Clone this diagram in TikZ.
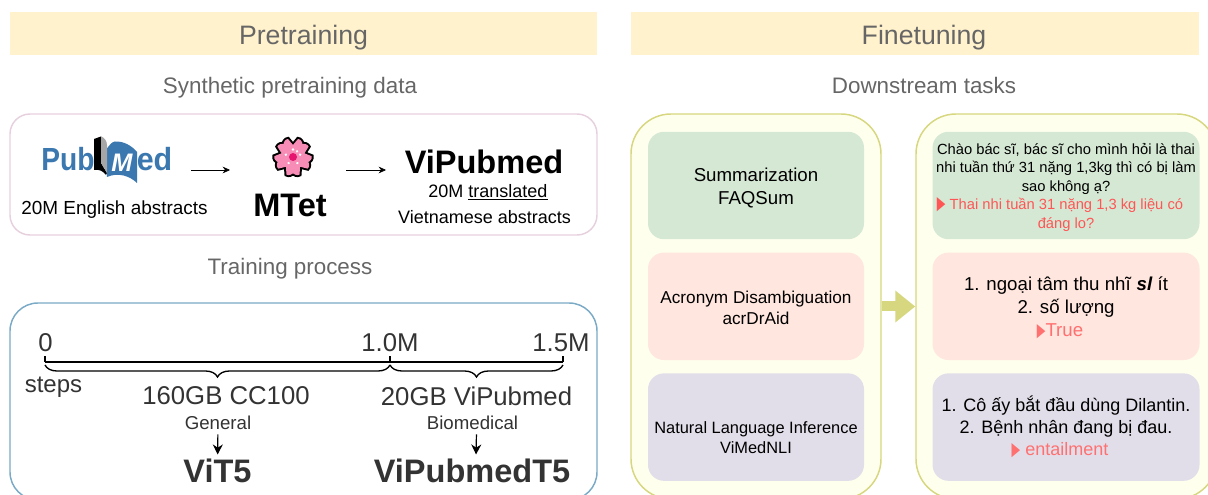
\documentclass[tikz,border=0pt]{standalone}
\usepackage{graphicx}
\usepackage{fontspec}
\setmainfont{Liberation Sans}
\newfontfamily\symfont{DejaVu Sans}
\usetikzlibrary{arrows.meta, positioning, calc, decorations.pathreplacing}

\definecolor{headfill}{HTML}{FFF2CC}
\definecolor{headtext}{HTML}{666666}
\definecolor{pubpink}{HTML}{E6D0DE}
\definecolor{trainblue}{HTML}{7AAAC6}
\definecolor{olive}{HTML}{D6D77F}
\definecolor{cream}{HTML}{FFFFEE}
\definecolor{taskgreen}{HTML}{D5E8D4}
\definecolor{taskred}{HTML}{FFE6DE}
\definecolor{taskpurple}{HTML}{E2DEE9}
\definecolor{darktext}{HTML}{333333}
\definecolor{answerred}{HTML}{FF5555}
\definecolor{answerpink}{HTML}{FF7070}
\definecolor{pubblue}{HTML}{3A78AF}
\definecolor{petal}{HTML}{F78DB6}
\definecolor{petalcore}{HTML}{E6136F}

\newcommand{\redmark}{{\symfont\fontsize{14}{14}\selectfont\scalebox{.6}[1]{▶}}}

\begin{document}
\begin{tikzpicture}[x=0.75pt, y=-0.75pt, >={Stealth[length=5.5pt,width=5pt]}, node distance=9.6pt,
		header/.style={fill=headfill, text=headtext, minimum width=440.25pt, minimum height=32.25pt, text height=17.25pt, text depth=0pt, font=\fontsize{20}{24}\selectfont},
		subhead/.style={text=headtext, inner sep=0pt, font=\fontsize{16.8}{20}\selectfont},
		panel/.style={draw, rounded corners=15pt, line width=1.1pt, minimum width=440.25pt},
		outerbox/.style={draw=olive, fill=cream, rounded corners=30pt, line width=1.1pt, minimum height=288.75pt},
		taskbox/.style={rounded corners=12pt, minimum height=80.6pt, align=center, inner sep=0pt},
		lefttask/.style={taskbox, minimum width=162pt},
		righttask/.style={taskbox, minimum width=200.25pt},
		small/.style={font=\fontsize{12.3}{15}\selectfont},
		medium/.style={font=\fontsize{14}{17.25}\selectfont},
		plain/.style={inner sep=0pt, font=\fontsize{14.2}{17}\selectfont},
		steplabel/.style={text=darktext, inner sep=1pt, font=\fontsize{19.3}{23}\selectfont},
		modelname/.style={inner sep=1pt, font=\fontsize{24.4}{29}\selectfont\bfseries},
		brace/.style={decorate, decoration={brace, mirror, amplitude=9pt}, line width=1pt},
		logotext/.style={text=pubblue, inner sep=0pt, font=\fontsize{24}{28}\selectfont\bfseries},
		downarrow/.style={->, >={Stealth[length=7.5pt,width=7.5pt]}, line width=0.9pt, shorten >=2.25pt, shorten <=2.25pt},
	]
		\path[use as bounding box, clip] (0,0) rectangle (1208,495);
		
		\node (pretrain) [header] at (303.5,33.5) {Pretraining};
		\node (finetune) [header, minimum width=426pt] at (915,33.5) {\hspace*{13.5pt}Finetuning};
		\node (synth) [subhead] at (290,88) {Synthetic pretraining data};
		\node (downstream) [subhead] at (924,85) {Downstream tasks};
		\node (trainproc) [subhead] at (290,269) {Training process};
		
		\node (datapanel) [panel, draw=pubpink, minimum height=90.75pt] at (303.5,174.5) {};
		\node (trainpanel) [panel, draw=trainblue, rounded corners=21pt, minimum height=147.75pt] at (303.5,401.5) {};
		
		\fill[pubblue] (106,150) .. controls (110,144) and (112,142) .. (115,141.5) .. controls (124,141) and (132,146) .. (137,152) -- (137,183) .. controls (130,176) and (118,172) .. (107,177) -- cycle;
		\fill[black] (94,139) -- (101,136.5) -- (101,163) -- (107,173) -- (106,175) .. controls (103,171) and (99,169) .. (94,170) -- cycle;
		\fill[gray!70] (101,136.5) .. controls (104,137) and (107,141) .. (107,145) -- (107,173) -- (101,163) -- cycle;
		\node (pub) [logotext, anchor=base west] at (41,171) {\scalebox{.88}[1]{Pub}};
		\node (med) [logotext, anchor=base east] at (172.5,171) {\scalebox{.95}[1]{ed}};
		\node (pubm) [logotext, text=white, anchor=base, font=\fontsize{19}{22}\selectfont\bfseries\itshape] at (122,172) {M};
		
		\foreach \a in {0,72,...,288}
			\draw[black, line width=3pt, rotate around={\a:(293,157)}] (293,157) .. controls (279,151) and (283,139) .. (288,139) -- (293,145) -- (298,139) .. controls (303,139) and (307,151) .. (293,157);
		\foreach \a in {0,72,...,288} {
			\fill[petal, rotate around={\a:(293,157)}] (293,157) .. controls (279,151) and (283,139) .. (288,139) -- (293,145) -- (298,139) .. controls (303,139) and (307,151) .. (293,157);
			\fill[white, rotate around={\a:(293,157)}] (293,149.5) circle (1.3);
			\fill[white, rotate around={\a+36:(293,157)}] (293,150) circle (1.3);
		}
		\fill[petalcore] (293,157) circle (4);
		
		\node (english) [plain] at (114.5,210) {20M English abstracts};
		\node (mtet) [modelname] at (290,205) {MTet};
		\node (vipubmed) [modelname] at (484,162) {ViPubmed};
		\node (translated) [plain, font=\fontsize{13.5}{16}\selectfont] at (488,192) {20M \underline{translated}};
		\node (vietnamese) [plain, font=\fontsize{13.5}{16}\selectfont] at (484.5,217) {Vietnamese abstracts};
		
		\coordinate (pubout) at (191,170);
		\coordinate (mtetin) at (230,170);
		\coordinate (mtetout) at (346,170);
		\coordinate (vipubin) at (386,170);
		\draw[->] (pubout) -- (mtetin);
		\draw[->] (mtetout) -- (vipubin);
		
		\node (zero) [steplabel] at (45.5,343) {0};
		\node (onem) [steplabel] at (390,343) {1.0M};
		\node (onefive) [steplabel] at (561,343) {1.5M};
		\node (steps) [steplabel, font=\fontsize{18}{22}\selectfont] at (53.5,387) {steps};
		
		\coordinate (step0) at (45,362);
		\coordinate (step1) at (390,362);
		\coordinate (step2) at (563,362);
		\draw[line width=1pt] (step0) -- (step2);
		\foreach \s in {step0,step1,step2}
			\draw[line width=1pt] (\s) -- ++(0,-6);
		\draw[brace] ($(step0)+(0,3)$) -- ($(step1)+(0,3)$);
		\draw[brace] ($(step1)+(0,3)$) -- ($(step2)+(0,3)$);
		
		\node (cc) [steplabel] at (226,396) {160GB CC100};
		\node (general) [steplabel, font=\fontsize{14}{17}\selectfont] at (218,423) {General};
		\node (vit) [modelname, text=darktext] at (217.5,471) {ViT5};
		\node (vipub) [steplabel] at (476.5,396) {20GB ViPubmed};
		\node (biomed) [steplabel, font=\fontsize{14}{17}\selectfont] at (472.5,423) {Biomedical};
		\node (vipubt) [modelname, text=darktext] at (472,471) {ViPubmedT5};
		
		\draw[downarrow] (general) -- (vit);
		\draw[downarrow] ([xshift=3pt]biomed.south) -- ([xshift=3pt]vipubt.north);
		
		\node (tasks) [outerbox, minimum width=187.5pt] at (756,306.5) {};
		\node (outputs) [outerbox, minimum width=225.75pt] at (1066.5,306.5) {};
		
		\draw[olive, line width=7.5pt, -{Triangle[length=15pt,width=23pt]}] (tasks.east) -- (outputs.west);
		
		\node (sumtask) [lefttask, fill=taskgreen, medium] at (756,185.5) {\rule{0pt}{13.5pt}Summarization\\FAQSum};
		\node (acrtask) [lefttask, fill=taskred, font=\fontsize{12.9}{15.8}\selectfont, below=of sumtask] {\rule{0pt}{11pt}Acronym Disambiguation\\acrDrAid};
		\node (nlitask) [lefttask, fill=taskpurple, small, below=of acrtask] {~\\[9pt]Natural Language Inference\\ViMedNLI};
		
		\node (sumout) [righttask, fill=taskgreen, font=\fontsize{11.05}{13.9}\selectfont, right=51pt of sumtask] {\rule{0pt}{11pt}Chào bác sĩ, bác sĩ cho mình hỏi là thai\\nhi tuần thứ 31 nặng 1,3kg thì có bị làm\\sao không ạ?\\\textcolor{answerred}{\redmark\ Thai nhi tuần 31 nặng 1,3 kg liệu có\hspace*{9pt}}\\\textcolor{answerred}{đáng lo?}};
		\node (acrout) [righttask, fill=taskred, medium, below=of sumout] {\rule{0pt}{12pt}1. ngoại tâm thu nhĩ \textbf{\textit{sl}} ít\\2. số lượng\\\textcolor{answerpink}{\redmark True\hspace*{9pt}}};
		\node (nliout) [righttask, fill=taskpurple, font=\fontsize{13.5}{16.5}\selectfont, below=of acrout] {1. Cô ấy bắt đầu dùng Dilantin.\\2. Bệnh nhân đang bị đau.\\\textcolor{answerpink}{\redmark\ entailment\hspace*{9pt}}};
	\end{tikzpicture}
\end{document}
